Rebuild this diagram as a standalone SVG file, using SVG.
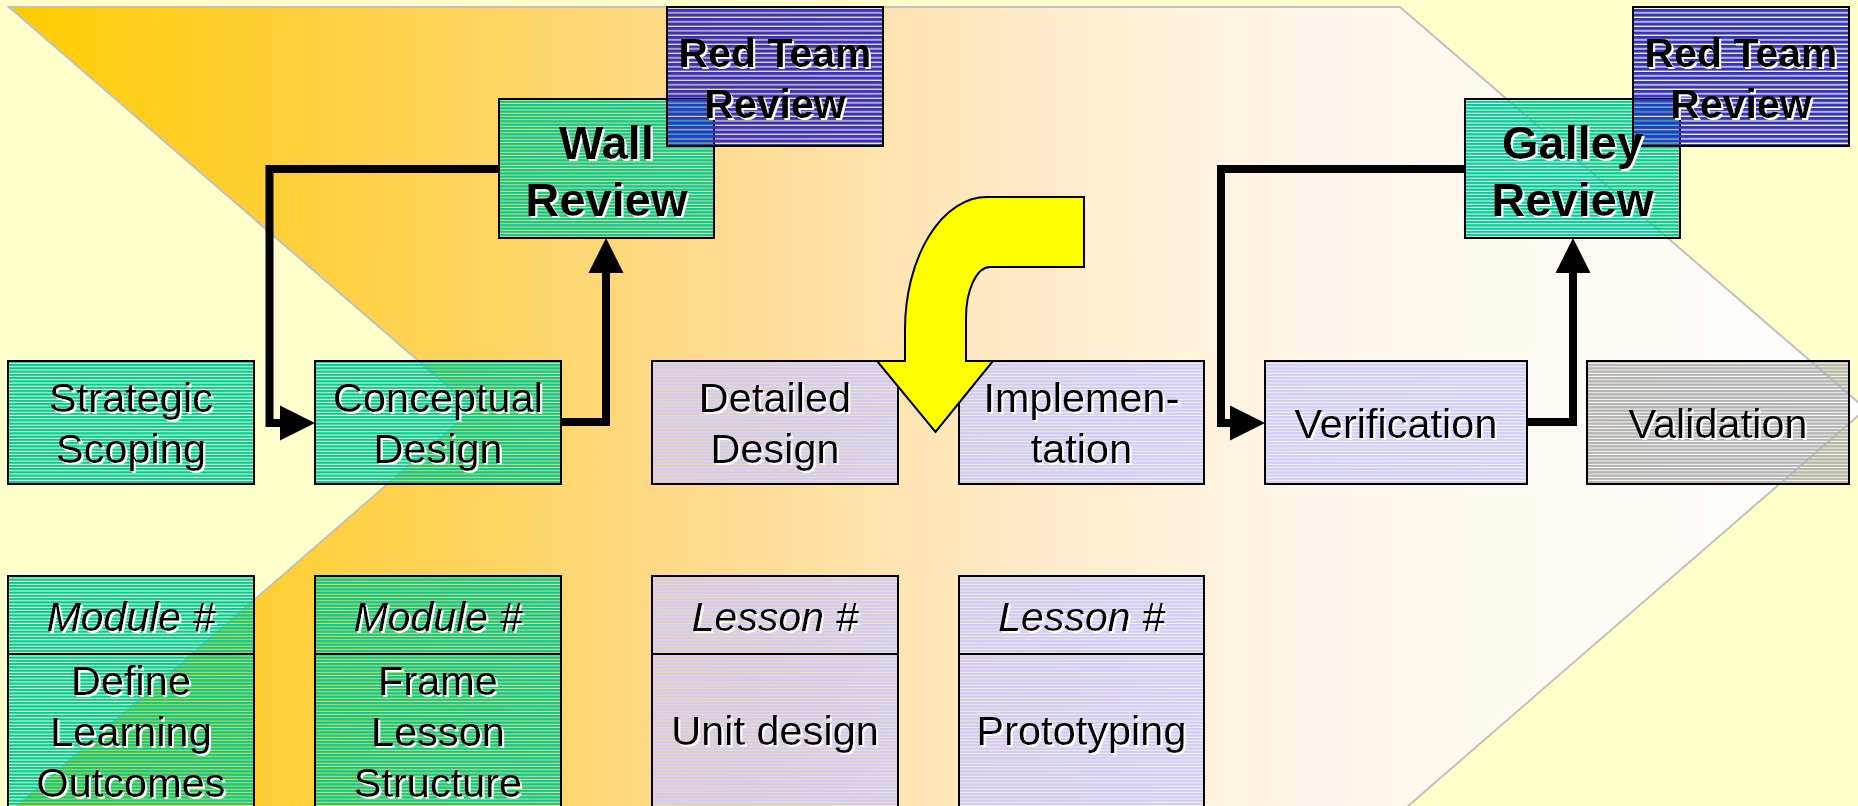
<svg xmlns="http://www.w3.org/2000/svg" width="1858" height="806" viewBox="0 0 1858 806">
  <defs>
    <linearGradient id="band" gradientUnits="userSpaceOnUse" x1="9" y1="0" x2="1866" y2="0">
      <stop offset="0" stop-color="#FFCC00"/>
      <stop offset="0.17" stop-color="#FFD040"/>
      <stop offset="0.37" stop-color="#FFDA8C"/>
      <stop offset="0.53" stop-color="#FFE9C4"/>
      <stop offset="0.7" stop-color="#FFF6EA"/>
      <stop offset="1" stop-color="#FFFFFF"/>
    </linearGradient>
    <!-- narrow horizontal stripes: solid bands with see-through gaps -->
    <pattern id="pGreen" patternUnits="userSpaceOnUse" width="10" height="3.25">
      <rect width="10" height="2.25" fill="#00CC99"/>
    </pattern>
    <pattern id="pLilac" patternUnits="userSpaceOnUse" width="10" height="3.25">
      <rect width="10" height="2.25" fill="#CCCCFF"/>
    </pattern>
    <pattern id="pGrey" patternUnits="userSpaceOnUse" width="10" height="3.25">
      <rect width="10" height="2.25" fill="#B2B2B2"/>
    </pattern>
    <pattern id="pBlue" patternUnits="userSpaceOnUse" width="10" height="4.5">
      <rect width="10" height="3.2" fill="#3333CC"/>
    </pattern>
    <filter id="shadow" x="-5%" y="-10%" width="115%" height="130%">
      <feOffset in="SourceAlpha" dx="2" dy="2" result="off"/>
      <feFlood flood-color="#FFFFFF"/>
      <feComposite operator="in" in2="off" result="white"/>
      <feMerge>
        <feMergeNode in="white"/>
        <feMergeNode in="SourceGraphic"/>
      </feMerge>
    </filter>
    <marker id="head" markerUnits="userSpaceOnUse" markerWidth="36" markerHeight="36" refX="0" refY="17.5" orient="auto" overflow="visible">
      <path d="M0,0 L35,17.5 L0,35 Z" fill="#000"/>
    </marker>
    <style>
      .box { stroke: #000; stroke-width: 2; }
      .green { fill: url(#pGreen); }
      .lilac { fill: url(#pLilac); }
      .grey { fill: url(#pGrey); }
      .blue { fill: url(#pBlue); }
      .divider { stroke: #000; stroke-width: 2; }
      text { font-family: "Liberation Sans", Arial, sans-serif; fill: #000; text-anchor: middle; filter: url(#shadow); }
      .lbl { font-size: 41.5px; }
      .hdr { font-size: 41px; font-style: italic; }
      .big { font-size: 47px; font-weight: bold; }
      .red { font-size: 41px; font-weight: bold; }
      .link { fill: none; stroke: #000; stroke-width: 8; stroke-linejoin: miter; marker-end: url(#head); }
    </style>
  </defs>

  <!-- backdrop and the phase chevron -->
  <rect width="1858" height="806" fill="#FFFFCC"/>
  <polygon points="9,7 1400,7 1866,409 1400,813 9,813 474,409" fill="url(#band)" stroke="#C0C0C0" stroke-width="2"/>

  <!-- phase row -->
  <g id="strategic-scoping">
    <rect class="box green" x="8" y="361" width="246" height="123"/>
    <text class="lbl" x="131" y="412">Strategic</text>
    <text class="lbl" x="131" y="463">Scoping</text>
  </g>
  <g id="conceptual-design">
    <rect class="box green" x="315" y="361" width="246" height="123"/>
    <text class="lbl" x="438" y="412">Conceptual</text>
    <text class="lbl" x="438" y="463">Design</text>
  </g>
  <g id="detailed-design">
    <rect class="box lilac" x="652" y="361" width="246" height="123"/>
    <text class="lbl" x="775" y="412">Detailed</text>
    <text class="lbl" x="775" y="463">Design</text>
  </g>
  <g id="implementation">
    <rect class="box lilac" x="959" y="361" width="245" height="123"/>
    <text class="lbl" x="1081.5" y="412">Implemen-</text>
    <text class="lbl" x="1081.5" y="463">tation</text>
  </g>
  <g id="verification">
    <rect class="box lilac" x="1265" y="361" width="262" height="123"/>
    <text class="lbl" x="1396" y="438">Verification</text>
  </g>
  <g id="validation">
    <rect class="box grey" x="1587" y="361" width="262" height="123"/>
    <text class="lbl" x="1718" y="438">Validation</text>
  </g>

  <!-- review gates -->
  <g id="wall-review">
    <rect class="box green" x="499" y="99" width="215" height="139"/>
    <text class="big" x="606.5" y="159">Wall</text>
    <text class="big" x="606.5" y="216">Review</text>
  </g>
  <g id="red-team-review-1">
    <rect class="box blue" x="667" y="7" width="216" height="139"/>
    <text class="red" x="775" y="67">Red Team</text>
    <text class="red" x="775" y="118">Review</text>
  </g>
  <g id="galley-review">
    <rect class="box green" x="1465" y="99" width="215" height="139"/>
  </g>
  <g id="red-team-review-2">
    <rect class="box blue" x="1633" y="7" width="216" height="139"/>
    <text class="red" x="1741" y="67">Red Team</text>
    <text class="red" x="1741" y="118">Review</text>
  </g>
  <g id="galley-review-label">
    <text class="big" x="1572.5" y="159">Galley</text>
    <text class="big" x="1572.5" y="216">Review</text>
  </g>

  <!-- module / lesson cards -->
  <g id="module-outcomes">
    <rect class="box green" x="8" y="576" width="246" height="260"/>
    <line class="divider" x1="8" y1="654" x2="254" y2="654"/>
    <text class="hdr" x="131" y="631">Module #</text>
    <text class="lbl" x="131" y="695">Define</text>
    <text class="lbl" x="131" y="746">Learning</text>
    <text class="lbl" x="131" y="797">Outcomes</text>
  </g>
  <g id="module-structure">
    <rect class="box green" x="315" y="576" width="246" height="260"/>
    <line class="divider" x1="315" y1="654" x2="561" y2="654"/>
    <text class="hdr" x="438" y="631">Module #</text>
    <text class="lbl" x="438" y="695">Frame</text>
    <text class="lbl" x="438" y="746">Lesson</text>
    <text class="lbl" x="438" y="797">Structure</text>
  </g>
  <g id="lesson-unit-design">
    <rect class="box lilac" x="652" y="576" width="246" height="260"/>
    <line class="divider" x1="652" y1="654" x2="898" y2="654"/>
    <text class="hdr" x="775" y="631">Lesson #</text>
    <text class="lbl" x="775" y="745">Unit design</text>
  </g>
  <g id="lesson-prototyping">
    <rect class="box lilac" x="959" y="576" width="245" height="260"/>
    <line class="divider" x1="959" y1="654" x2="1204" y2="654"/>
    <text class="hdr" x="1081.5" y="631">Lesson #</text>
    <text class="lbl" x="1081.5" y="745">Prototyping</text>
  </g>

  <!-- review loops -->
  <g id="connectors">
    <path class="link" d="M499,169 H269.5 V423 H280"/>
    <path class="link" d="M561,422 H606 V273"/>
    <path class="link" d="M1465,169 H1221 V423 H1230"/>
    <path class="link" d="M1527,422 H1573 V273"/>
  </g>

  <!-- bent arrow turning down between design and implementation -->
  <g id="turn-arrow">
    <path d="M1084,197 V267 H990 A24,51 0 0 0 966,318 V361 H993 L935.5,432 L877,361 H905 V330 A82,133 0 0 1 987,197 Z" fill="#FFFF00" stroke="#000" stroke-width="2" stroke-linejoin="miter"/>
  </g>
</svg>
